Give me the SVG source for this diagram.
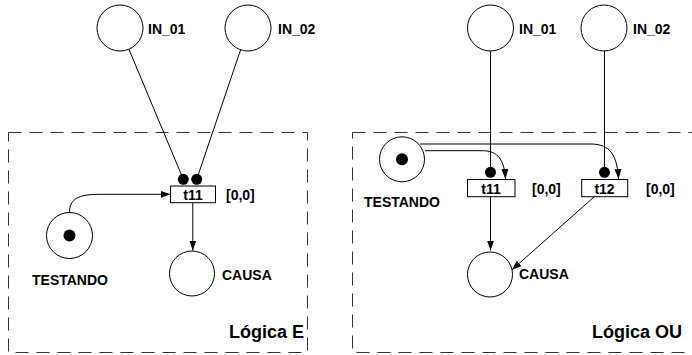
<svg xmlns="http://www.w3.org/2000/svg" width="692" height="355" viewBox="0 0 692 355">
  <style>
    .frame { fill: none; stroke: #333; stroke-width: 1; stroke-dasharray: 13 8; }
    .place { fill: #fff; stroke: #000; stroke-width: 1; }
    .trans { fill: #fff; stroke: #000; stroke-width: 1; }
    .token { fill: #000; }
    .arc { fill: none; stroke: #000; stroke-width: 1; }
    .lbl { font-family: "Liberation Sans", Arial, sans-serif; font-weight: bold; font-size: 14px; fill: #000; }
    .title { font-family: "Liberation Sans", Arial, sans-serif; font-weight: bold; font-size: 18px; fill: #000; }
    .tl { text-anchor: middle; }
  </style>
  <defs>
    <marker id="arrow" markerUnits="userSpaceOnUse" markerWidth="11" markerHeight="8" refX="10" refY="3.5" orient="auto">
      <path d="M0,0 L10,3.5 L0,7 z" fill="#000"/>
    </marker>
  </defs>

  <!-- frames -->
  <rect id="frame-e" class="frame" x="8.5" y="132.5" width="299" height="220"/>
  <rect id="frame-ou" class="frame" x="352.5" y="132.5" width="350" height="220"/>

  <!-- connectors -->
  <g id="connectors">
    <!-- AND logic -->
    <line class="arc" x1="128.9" y1="49.2" x2="183.3" y2="179.3"/>
    <line class="arc" x1="240.6" y1="49.8" x2="196.7" y2="179.3"/>
    <path class="arc" d="M69.5,212.5 C69.5,199 78,194.3 100,194.3 L170.5,194.3" marker-end="url(#arrow)"/>
    <line class="arc" x1="192.8" y1="202.7" x2="192.8" y2="250.5" marker-end="url(#arrow)"/>
    <!-- OR logic -->
    <line class="arc" x1="490.5" y1="51" x2="490.5" y2="172.3"/>
    <line class="arc" x1="604.5" y1="51" x2="604.5" y2="172.3"/>
    <path class="arc" d="M420,144 L590,144 C606,144 617,150 618.5,179" marker-end="url(#arrow)"/>
    <path class="arc" d="M425,150.7 L482,150.7 C495,150.7 504,156 505.5,179" marker-end="url(#arrow)"/>
    <line class="arc" x1="490.5" y1="196.7" x2="490.5" y2="250.5" marker-end="url(#arrow)"/>
    <line class="arc" x1="594.3" y1="196.7" x2="511.7" y2="270" marker-end="url(#arrow)"/>
  </g>

  <!-- AND logic nodes -->
  <g id="e-in01">
    <circle class="place" cx="120" cy="28" r="23"/>
    <text class="lbl" x="148" y="34">IN_01</text>
  </g>
  <g id="e-in02">
    <circle class="place" cx="248" cy="28" r="23"/>
    <text class="lbl" x="278" y="34">IN_02</text>
  </g>
  <g id="e-t11">
    <circle class="token" cx="183.3" cy="179.3" r="5.5"/>
    <circle class="token" cx="196.7" cy="179.3" r="5.5"/>
    <rect class="trans" x="170.5" y="186" width="45" height="16.7"/>
    <text class="lbl tl" x="193" y="200">t11</text>
    <text class="lbl" x="226" y="200">[0,0]</text>
  </g>
  <g id="e-testando">
    <circle class="place" cx="69.5" cy="235.5" r="23"/>
    <circle class="token" cx="69.5" cy="235.5" r="6"/>
    <text class="lbl" x="32" y="285">TESTANDO</text>
  </g>
  <g id="e-causa">
    <circle class="place" cx="192" cy="273.5" r="22.5"/>
    <text class="lbl" x="222" y="280">CAUSA</text>
  </g>
  <text class="title" x="229" y="338">Lógica E</text>

  <!-- OR logic nodes -->
  <g id="ou-in01">
    <circle class="place" cx="490.5" cy="28" r="23"/>
    <text class="lbl" x="519" y="34">IN_01</text>
  </g>
  <g id="ou-in02">
    <circle class="place" cx="604" cy="28" r="23"/>
    <text class="lbl" x="633" y="34">IN_02</text>
  </g>
  <g id="ou-testando">
    <circle class="place" cx="402" cy="159.3" r="22.5"/>
    <circle class="token" cx="402" cy="159.3" r="6"/>
    <text class="lbl" x="364" y="207">TESTANDO</text>
  </g>
  <g id="ou-t11">
    <circle class="token" cx="490.5" cy="172.3" r="5.5"/>
    <rect class="trans" x="467.5" y="179.5" width="47.5" height="17.2"/>
    <text class="lbl tl" x="491" y="193.5">t11</text>
    <text class="lbl" x="532" y="193.5">[0,0]</text>
  </g>
  <g id="ou-t12">
    <circle class="token" cx="604.5" cy="172.3" r="5.5"/>
    <rect class="trans" x="581.7" y="179.5" width="46" height="17.2"/>
    <text class="lbl tl" x="604.5" y="193.5">t12</text>
    <text class="lbl" x="646" y="193.5">[0,0]</text>
  </g>
  <g id="ou-causa">
    <circle class="place" cx="490" cy="274.5" r="22.5"/>
    <text class="lbl" x="519" y="278.5">CAUSA</text>
  </g>
  <text class="title" x="592" y="337.5">Lógica OU</text>
</svg>
